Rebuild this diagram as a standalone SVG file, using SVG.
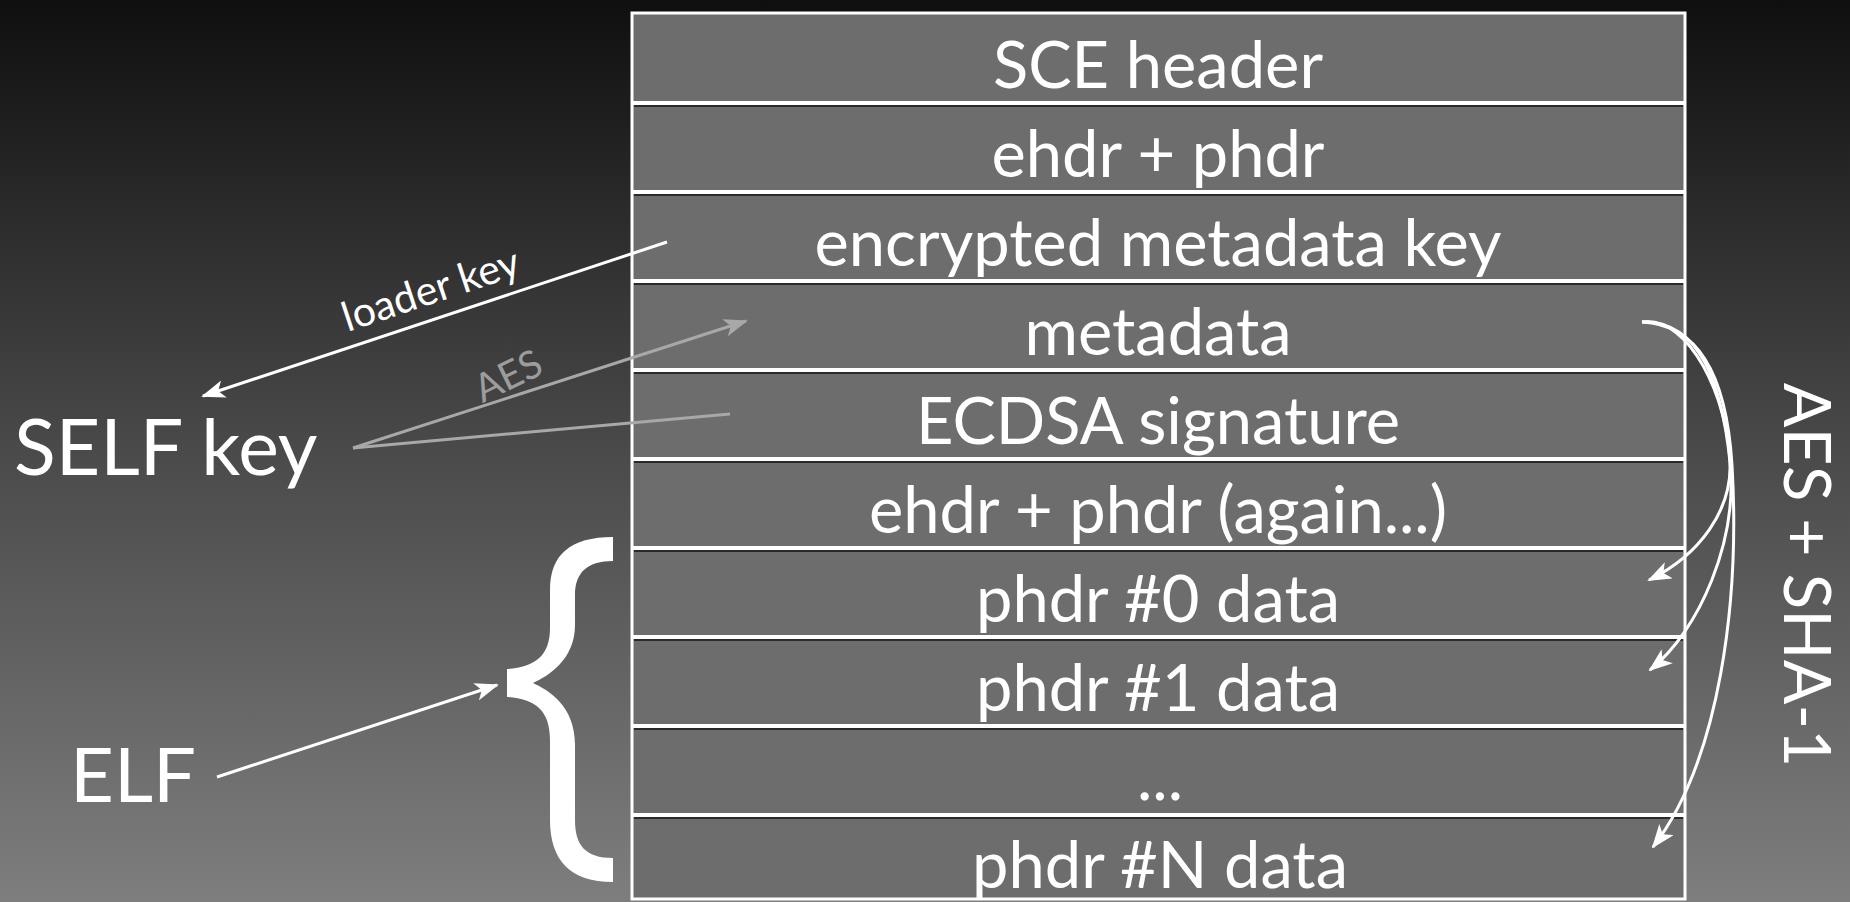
<svg xmlns="http://www.w3.org/2000/svg" width="1850" height="902" viewBox="0 0 1850 902">
  <defs>
    <linearGradient id="bg" x1="0" y1="0" x2="0" y2="1">
      <stop offset="0" stop-color="#0f0f0f"/>
      <stop offset="0.5" stop-color="#4a4a4a"/>
      <stop offset="1" stop-color="#7e7e7e"/>
    </linearGradient>
    <marker id="ah" viewBox="0 0 24 18" refX="22" refY="9" markerWidth="24" markerHeight="18" markerUnits="userSpaceOnUse" orient="auto">
      <path d="M0,0 L24,9 L0,18 L6,9 Z" fill="#ffffff"/>
    </marker>
    <marker id="ahg" viewBox="0 0 24 18" refX="22" refY="9" markerWidth="24" markerHeight="18" markerUnits="userSpaceOnUse" orient="auto">
      <path d="M0,0 L24,9 L0,18 L6,9 Z" fill="#a8a8a8"/>
    </marker>
    <style>
      .row { font-family: Lato, "Liberation Sans", sans-serif; font-size: 65px; fill: #ffffff; text-anchor: middle; }
      .lbl { font-family: Lato, "Liberation Sans", sans-serif; fill: #ffffff; }
      .sep { stroke: #ffffff; stroke-width: 4; }
      .shade { stroke: #2a2a2a; stroke-width: 2; }
      .conn { fill: none; stroke: #ffffff; stroke-width: 3; }
      .grey { fill: none; stroke: #a8a8a8; stroke-width: 3; }
    </style>
  </defs>

  <rect x="0" y="0" width="1850" height="902" fill="url(#bg)"/>

  <g id="table">
    <rect x="632" y="14" width="1053" height="885" fill="#6d6d6d"/>
    <g class="shade">
      <line x1="634" y1="106" x2="1683" y2="106"/>
      <line x1="634" y1="195" x2="1683" y2="195"/>
      <line x1="634" y1="284" x2="1683" y2="284"/>
      <line x1="634" y1="373" x2="1683" y2="373"/>
      <line x1="634" y1="462" x2="1683" y2="462"/>
      <line x1="634" y1="551" x2="1683" y2="551"/>
      <line x1="634" y1="640" x2="1683" y2="640"/>
      <line x1="634" y1="729" x2="1683" y2="729"/>
      <line x1="634" y1="818" x2="1683" y2="818"/>
    </g>
    <g class="sep">
      <line x1="632" y1="103" x2="1685" y2="103"/>
      <line x1="632" y1="192" x2="1685" y2="192"/>
      <line x1="632" y1="281" x2="1685" y2="281"/>
      <line x1="632" y1="370" x2="1685" y2="370"/>
      <line x1="632" y1="459" x2="1685" y2="459"/>
      <line x1="632" y1="548" x2="1685" y2="548"/>
      <line x1="632" y1="637" x2="1685" y2="637"/>
      <line x1="632" y1="726" x2="1685" y2="726"/>
      <line x1="632" y1="815" x2="1685" y2="815"/>
    </g>
    <rect x="632" y="13" width="1053" height="886" fill="none" stroke="#ffffff" stroke-width="3"/>
  </g>

  <g id="row-sce-header"><text class="row" x="1158" y="88">SCE header</text></g>
  <g id="row-ehdr-phdr"><text class="row" x="1158" y="177">ehdr + phdr</text></g>
  <g id="row-enc-key"><text class="row" x="1158" y="266">encrypted metadata key</text></g>
  <g id="row-metadata"><text class="row" x="1158" y="355">metadata</text></g>
  <g id="row-ecdsa"><text class="row" x="1158" y="444">ECDSA signature</text></g>
  <g id="row-ehdr-again"><text class="row" x="1158" y="533">ehdr + phdr (again...)</text></g>
  <g id="row-phdr0"><text class="row" x="1158" y="622">phdr #0 data</text></g>
  <g id="row-phdr1"><text class="row" x="1158" y="711">phdr #1 data</text></g>
  <g id="row-dots"><text class="row" x="1160" y="800">...</text></g>
  <g id="row-phdrN"><text class="row" x="1160" y="888">phdr #N data</text></g>

  <g id="self-key"><text class="lbl" x="14" y="475" font-size="77">SELF key</text></g>
  <g id="elf"><text class="lbl" x="70" y="802" font-size="76">ELF</text></g>
  <g id="brace">
    <path fill="#ffffff" d="M533,683 C548,690 575,705 575,745 L575,820 C575,845 585,858 613,858 L613,882 C570,882 550,860 550,820 L550,740 C550,710 535,699 507,697 L507,669 C535,667 550,656 550,628 L550,590 C550,555 570,537 613,537 L613,561 C588,561 575,572 575,595 L575,625 C575,660 548,676 533,683 Z"/>
  </g>
  <g id="aes-sha1"><text class="lbl" font-size="66" text-anchor="middle" transform="translate(1784,575) rotate(90)">AES + SHA-1</text></g>

  <g id="connectors">
    <line class="conn" x1="667" y1="242" x2="203" y2="396" stroke-width="4" marker-end="url(#ah)"/>
    <text class="lbl" font-size="41" text-anchor="middle" transform="translate(435,303) rotate(-18.4)">loader key</text>
    <line class="grey" x1="353" y1="448" x2="746" y2="321" marker-end="url(#ahg)"/>
    <line class="grey" x1="353" y1="448" x2="730" y2="414"/>
    <text font-family="Lato, 'Liberation Sans', sans-serif" font-size="39" fill="#9c9c9c" text-anchor="middle" transform="translate(514,388) rotate(-26)">AES</text>
    <line class="conn" x1="217" y1="777" x2="497" y2="685" stroke-width="4" marker-end="url(#ah)"/>
    <path class="conn" d="M1642,322 C1690,315 1728,400 1730,462 C1732,510 1700,555 1649,580" marker-end="url(#ah)"/>
    <path class="conn" d="M1642,322 C1700,320 1722,385 1730,462 C1738,540 1700,630 1650,670" marker-end="url(#ah)"/>
    <path class="conn" d="M1642,322 C1710,325 1728,400 1732,465 C1740,600 1720,760 1653,847" marker-end="url(#ah)"/>
  </g>
</svg>
